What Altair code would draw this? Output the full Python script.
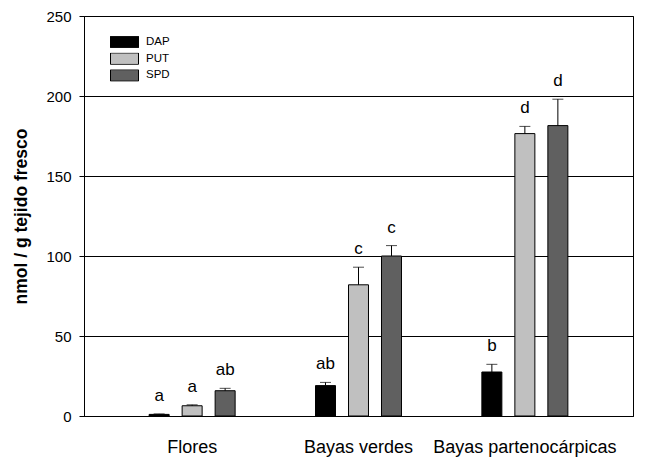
import altair as alt
import pandas as pd

groups = ["Flores", "Bayas verdes", "Bayas partenocárpicas"]
series = ["DAP", "PUT", "SPD"]
colors = ["#000000", "#c0c0c0", "#606060"]

dap_mean = [1.0, 19.0, 27.5]
dap_se = [0.3, 2.0, 4.8]
put_mean = [6.4, 82.0, 176.5]
put_se = [0.6, 11.0, 4.5]
spd_mean = [15.8, 100.0, 181.5]
spd_se = [1.5, 6.5, 16.5]

dap_letters = ["a", "ab", "b"]
put_letters = ["a", "c", "d"]
spd_letters = ["ab", "c", "d"]

rows = []
for s, means, ses, lets in [
    ("DAP", dap_mean, dap_se, dap_letters),
    ("PUT", put_mean, put_se, put_letters),
    ("SPD", spd_mean, spd_se, spd_letters),
]:
    for g, m, e, l in zip(groups, means, ses, lets):
        rows.append({"group": g, "series": s, "value": m, "se": e,
                     "top": m + e, "letter": l})
df = pd.DataFrame(rows)

FONT = "Liberation Sans"

x_enc = alt.X("group:N", sort=groups, title=None,
              scale=alt.Scale(paddingInner=0.2, paddingOuter=0.25),
              axis=alt.Axis(labelAngle=0, ticks=False, labelFontSize=18,
                            labelPadding=22, labelColor="black", labelLimit=0,
                            domainColor="black", grid=False))
xo_enc = alt.XOffset("series:N", sort=series,
                     scale=alt.Scale(paddingInner=0.394, paddingOuter=0.7135))

y_scale = alt.Scale(domain=[0, 250], nice=False)
y_axis = alt.Axis(values=[0, 50, 100, 150, 200, 250], tickSize=5,
                  labelFontSize=15, labelPadding=8, labelColor="black",
                  tickColor="black", domainColor="black", gridColor="black",
                  gridOpacity=1, grid=True, titleFontSize=17.5,
                  titleFontWeight="bold", titleColor="black", titlePadding=15)

base = alt.Chart(df)

rect_path = "M-1,-0.41H1V0.41H-1Z"

bars = base.mark_bar(stroke="black", strokeWidth=1).encode(
    x=x_enc,
    xOffset=xo_enc,
    y=alt.Y("value:Q", scale=y_scale, axis=y_axis,
            title="nmol / g tejido fresco"),
    color=alt.Color("series:N", sort=series,
                    scale=alt.Scale(domain=series, range=colors),
                    legend=alt.Legend(title=None, orient="none", legendX=26,
                                      legendY=20, symbolType=rect_path,
                                      symbolSize=784, symbolStrokeColor="black",
                                      symbolStrokeWidth=1, symbolOpacity=1,
                                      clipHeight=12, rowPadding=4.7,
                                      labelFontSize=11.5, labelOffset=7,
                                      labelColor="black", padding=0)),
)

rules = base.mark_rule(color="black", strokeWidth=1).encode(
    x=alt.X("group:N", sort=groups),
    xOffset=alt.XOffset("series:N", sort=series),
    y=alt.Y("value:Q"),
    y2="top:Q",
)

caps = base.mark_tick(color="black", orient="horizontal", size=11,
                      thickness=1).encode(
    x=alt.X("group:N", sort=groups),
    xOffset=alt.XOffset("series:N", sort=series),
    y=alt.Y("top:Q"),
)

labels = base.mark_text(fontSize=17, baseline="bottom", dy=-9,
                        color="black").encode(
    x=alt.X("group:N", sort=groups),
    xOffset=alt.XOffset("series:N", sort=series),
    y=alt.Y("top:Q"),
    text="letter:N",
)

chart = alt.layer(bars, rules, caps, labels).properties(
    width=549, height=400,
    autosize=alt.AutoSizeParams(type="none"),
    padding={"left": 76, "top": 8, "right": 15, "bottom": 42},
).configure(font=FONT).configure_view(stroke="black", strokeWidth=1)

chart.save("out.html", embed_options={"renderer": "svg", "actions": False})
